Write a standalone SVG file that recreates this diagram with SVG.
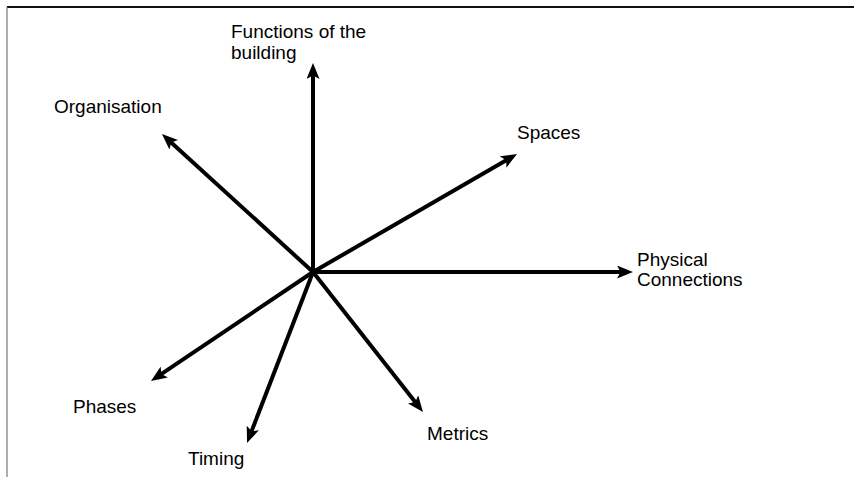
<svg xmlns="http://www.w3.org/2000/svg" width="854" height="477" viewBox="0 0 854 477">
<style>
.lbl{font-family:"Liberation Sans",Arial,sans-serif;font-size:19px;fill:#000}
.ax{stroke:#000;stroke-width:4;fill:none;marker-end:url(#ah)}
</style>
<defs>
<marker id="ah" markerUnits="userSpaceOnUse" viewBox="0 0 16 13" markerWidth="16" markerHeight="13" refX="5" refY="6.5" orient="auto">
<path d="M0,0 L16,6.5 L0,13 L3.5,6.5 z" fill="#000"/>
</marker>
</defs>
<rect width="854" height="477" fill="#fff"/>
<g id="frame">
<line x1="7" y1="7" x2="854" y2="7" stroke="#111" stroke-width="2"/>
<line x1="7" y1="7" x2="7" y2="477" stroke="#777" stroke-width="1.2"/>
</g>
<g id="connectors">
<line class="ax" x1="313" y1="272" x2="313" y2="74"/>
<line class="ax" x1="313" y1="272" x2="170.1" y2="141.4"/>
<line class="ax" x1="313" y1="272" x2="507.5" y2="159.5"/>
<line class="ax" x1="313" y1="272" x2="622" y2="272"/>
<line class="ax" x1="313" y1="272" x2="160.1" y2="374.8"/>
<line class="ax" x1="313" y1="272" x2="251" y2="432.7"/>
<line class="ax" x1="313" y1="272" x2="416.2" y2="403.3"/>
</g>
<g id="functions"><text class="lbl" x="231" y="38">Functions of the</text><text class="lbl" x="231" y="59">building</text></g>
<g id="organisation"><text class="lbl" x="54" y="113">Organisation</text></g>
<g id="spaces"><text class="lbl" x="517" y="139">Spaces</text></g>
<g id="physical"><text class="lbl" x="637" y="266">Physical</text><text class="lbl" x="637" y="286">Connections</text></g>
<g id="phases"><text class="lbl" x="73" y="413">Phases</text></g>
<g id="timing"><text class="lbl" x="188" y="465">Timing</text></g>
<g id="metrics"><text class="lbl" x="427" y="440">Metrics</text></g>
</svg>
